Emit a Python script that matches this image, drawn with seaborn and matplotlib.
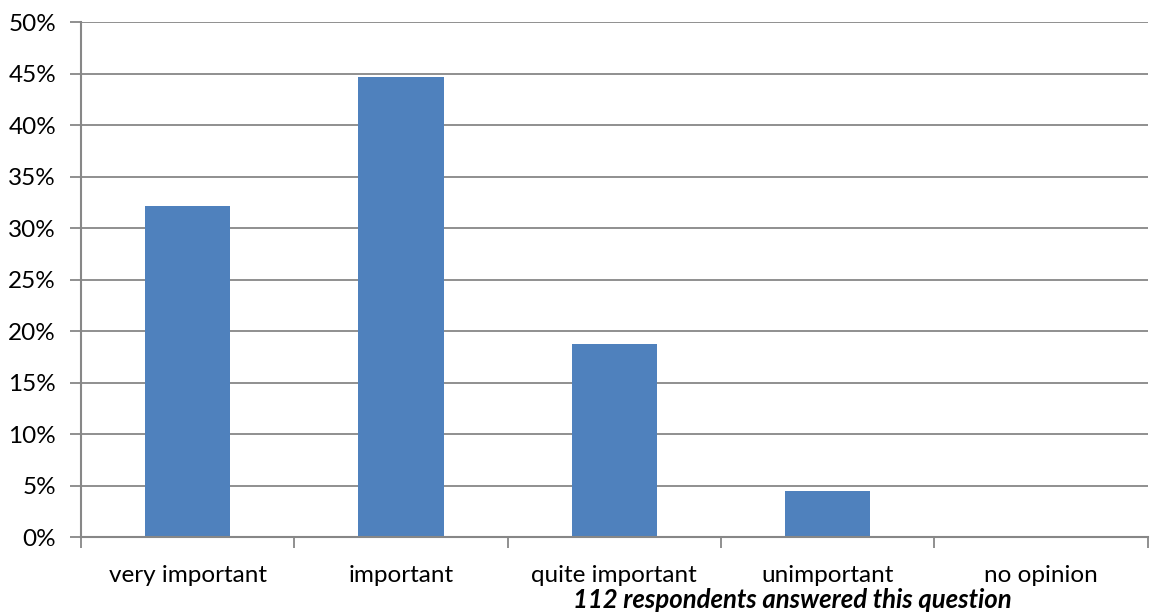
import numpy as np
import pandas as pd
import matplotlib as mpl
import matplotlib.pyplot as plt
import seaborn as sns
from matplotlib.ticker import FuncFormatter, FixedLocator

# Data
categories = ['very important', 'important', 'quite important', 'unimportant', 'no opinion']
shares = [32.14, 44.64, 18.75, 4.46, 0.0]
footnote = '112 respondents answered this question'

df = pd.DataFrame({'category': categories, 'share': shares})

sns.set_theme(style='white')
plt.rcParams['font.family'] = ['Lato', 'DejaVu Sans']

grid_color = '#878787'

fig = plt.figure(figsize=(11.57, 6.16), dpi=100)
ax = fig.add_axes([0.070, 0.128, 0.922, 0.836])

sns.barplot(data=df, x='category', y='share', color='#4F81BD',
            saturation=1, width=0.4, linewidth=0, edgecolor='none', ax=ax)

ax.set_ylim(0, 50)
ax.set_xlim(-0.5, len(categories) - 0.5)
ax.set_yticks(np.arange(0, 51, 5))
ax.yaxis.set_major_formatter(FuncFormatter(lambda v, p: f'{v:.0f}%'))
ax.yaxis.grid(True, color=grid_color, linewidth=1.3)
ax.set_axisbelow(True)

# Category separators as minor ticks
ax.xaxis.set_minor_locator(FixedLocator(np.arange(-0.5, len(categories), 1)))
ax.tick_params(axis='x', which='major', length=0, pad=20, labelsize=17.5, colors='black')
ax.tick_params(axis='x', which='minor', length=8, width=1.3, color=grid_color, direction='out')
ax.tick_params(axis='y', which='major', length=8, width=1.3, color=grid_color,
               direction='out', labelsize=17.5, labelcolor='black', pad=10)
ax.tick_params(bottom=True, left=True, which='both')

for side in ['top', 'right']:
    ax.spines[side].set_visible(False)
for side in ['left', 'bottom']:
    ax.spines[side].set_color(grid_color)
    ax.spines[side].set_linewidth(1.5)

ax.set_xlabel('')
ax.set_ylabel('')

fig.text(0.685, 0.026, footnote, ha='center', va='center', fontsize=18.5,
         fontweight='bold', fontstyle='italic', color='black')

fig.savefig('out.png', dpi=100, facecolor='white')
